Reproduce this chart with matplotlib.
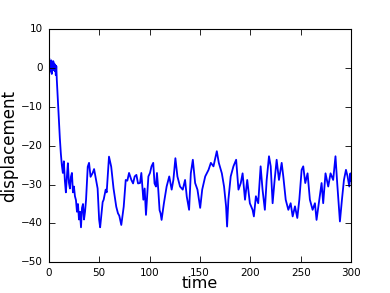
import matplotlib
matplotlib.use('Agg')
import matplotlib.pyplot as plt
import numpy as np

# values
time = [0, 0.5, 1, 1.5, 2, 2.5, 3, 3.5, 4, 4.5, 5, 5.5, 6, 6.5, 7, 7.5, 8,
        9, 10, 11, 12, 13, 14, 15, 16, 17, 18, 19, 20, 21, 22, 23, 24, 25,
        26, 27, 28, 29, 30, 31, 32, 33, 34, 35, 36, 37, 38, 38.7, 40, 41.5,
        43.6, 45, 47, 48.5, 50, 51, 53.5, 54.5, 56.5, 57.5, 59.8, 62, 64.3,
        67, 68.7, 70, 72, 74.4, 76.4, 78, 79.7, 82, 83.7, 85.3, 87, 88.6,
        90.6, 91.9, 93.9, 95.2, 96.5, 98.9, 100.5, 102, 103.7, 105, 106.4,
        107.4, 108.7, 110, 111, 112, 114.3, 117, 119.6, 122, 123.7, 125.7,
        127.7, 130.3, 133, 135.3, 137, 139.3, 141, 143, 145.3, 147.6, 150.3,
        152.3, 155.3, 158.6, 160.9, 163.5, 166.8, 168.8, 171.8, 174, 176, 177,
        178.3, 180.6, 183.3, 186, 188.3, 190.6, 192.4, 194.8, 197, 199.6,
        202.3, 203.6, 205.6, 207.9, 210.3, 212.2, 214.5, 216.3, 218.6, 220.3,
        222.2, 224.2, 226.2, 228.5, 231.2, 232.8, 235.2, 237.8, 240.1, 242.1,
        244.4, 246.7, 248.7, 251, 252.6, 254.6, 256.9, 259.2, 261.9, 264.2,
        265.8, 268.5, 270.8, 272.4, 274.7, 277.4, 279.7, 282.3, 284.6, 286.3,
        288, 289, 291, 293, 295, 296.6, 298.3, 299.4, 300]
displacement = [1, 2.5, -1, 1.5, 0, 2, -1.5, 1, 0.5, 1.8, -0.5, 1.2, -0.8, 0.8,
                -1.8, 0.5, -3, -8, -13, -18, -22, -25, -27, -24, -29, -32,
                -28, -24.5, -29.5, -31, -28, -27, -32, -30.5, -33, -34, -37,
                -35, -39, -37, -41, -36, -35, -39, -37, -34, -29, -25.4, -24.4,
                -28, -27, -26, -28.8, -31, -39, -41, -34.5, -33.9, -31.3, -32,
                -22.8, -25.4, -31, -35.7, -37.4, -38, -40.4, -35.7, -28.8, -29,
                -27, -28.8, -29.7, -27.9, -27.5, -29.7, -29.6, -27, -33.9, -31,
                -37.8, -27.9, -27, -25.3, -24.4, -29.7, -30.5, -27, -31.3,
                -36.6, -37.4, -39.1, -34.8, -30.5, -27.9, -31.3, -28.8, -23.2,
                -27.9, -30.5, -31.3, -28.8, -33.1, -36.5, -27.1, -23.6, -29.6,
                -31.3, -36, -31.3, -27.9, -26.2, -24.4, -25.3, -21.4, -24.4,
                -27.1, -30.5, -35.6, -40.8, -33.9, -27.9, -25.3, -23.6, -31.3,
                -29.6, -27.1, -33.9, -28.8, -34.8, -36.5, -38.2, -33, -34.8,
                -25.3, -31.3, -36.5, -28.8, -22.7, -25.3, -34.8, -28.8, -23.6,
                -28.8, -24.4, -27.9, -33.9, -36.5, -34.8, -38.2, -35.6, -38.6,
                -33.9, -26.2, -25.3, -29.6, -27.1, -33.9, -36.5, -34.8, -39.1,
                -33.9, -29.6, -34.8, -27.1, -30.5, -27.1, -28.8, -22.7, -29.6,
                -35.6, -39.5, -33.9, -28.8, -26.2, -27.9, -30.5, -27.1, -29]

plt.style.use('classic')
fig = plt.figure(figsize=(3.9, 2.93), dpi=100)
ax = fig.add_axes([0.125, 0.105, 0.775, 0.795])
ax.plot(time, displacement, color='#0000ff', linewidth=1.3)
ax.set_xlim(0, 300)
ax.set_ylim(-50, 10)
ax.set_xticks(np.arange(0, 301, 50))
ax.set_yticks(np.arange(-50, 11, 10))
ax.tick_params(labelsize=7.5, length=4, width=0.6)
for s in ax.spines.values():
    s.set_linewidth(0.8)
ax.set_xlabel('time', fontsize=11.5, labelpad=-1)
ax.set_ylabel('displacement', fontsize=12, labelpad=2)
fig.savefig('out.png', dpi=100)
